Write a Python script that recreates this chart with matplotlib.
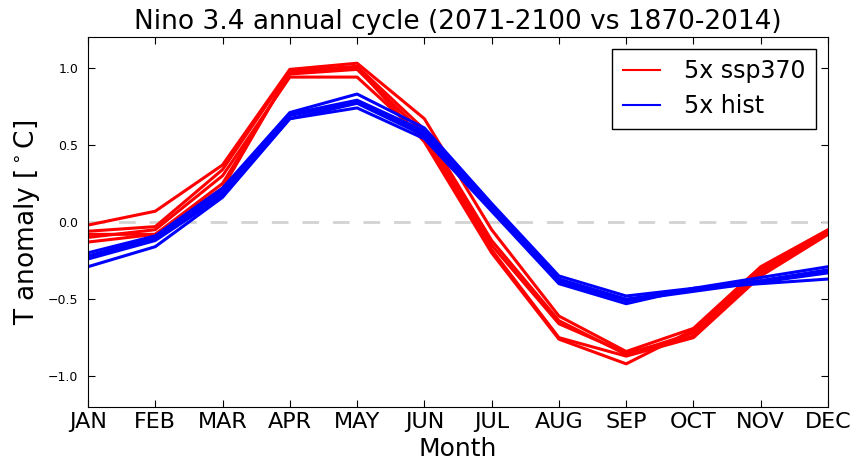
import matplotlib
matplotlib.use("Agg")
import matplotlib.pyplot as plt
import numpy as np

months = ["JAN", "FEB", "MAR", "APR", "MAY", "JUN",
          "JUL", "AUG", "SEP", "OCT", "NOV", "DEC"]

# 5 ensemble members, 2071-2100 ssp370 anomaly
ssp370 = [
    [-0.02, 0.07, 0.37, 0.99, 1.03, 0.67, -0.05, -0.61, -0.84, -0.69, -0.29, -0.05],
    [-0.06, -0.03, 0.34, 0.98, 1.01, 0.60, -0.12, -0.64, -0.86, -0.72, -0.32, -0.06],
    [-0.08, -0.08, 0.25, 0.96, 0.99, 0.57, -0.15, -0.66, -0.85, -0.74, -0.33, -0.07],
    [-0.10, -0.05, 0.30, 0.94, 0.94, 0.54, -0.18, -0.75, -0.87, -0.75, -0.35, -0.08],
    [-0.13, -0.08, 0.22, 0.97, 1.00, 0.52, -0.20, -0.76, -0.92, -0.70, -0.30, -0.06],
]

# 5 ensemble members, 1870-2014 historical
hist = [
    [-0.20, -0.09, 0.22, 0.71, 0.83, 0.61, 0.12, -0.35, -0.48, -0.43, -0.36, -0.29],
    [-0.22, -0.10, 0.20, 0.70, 0.79, 0.59, 0.10, -0.37, -0.50, -0.44, -0.38, -0.31],
    [-0.23, -0.11, 0.18, 0.69, 0.78, 0.57, 0.09, -0.38, -0.51, -0.44, -0.39, -0.33],
    [-0.24, -0.12, 0.17, 0.67, 0.77, 0.56, 0.08, -0.39, -0.51, -0.45, -0.39, -0.32],
    [-0.29, -0.16, 0.16, 0.67, 0.74, 0.54, 0.07, -0.40, -0.53, -0.43, -0.40, -0.37],
]

x = np.arange(len(months))

fig = plt.figure(figsize=(8.51, 4.66), dpi=100)
ax = fig.add_axes([0.1034, 0.1266, 0.8696, 0.794])

ax.axhline(0, color="lightgrey", linestyle="--", linewidth=2, dashes=(6, 5))

for i, run in enumerate(ssp370):
    ax.plot(x, run, color="red", linewidth=2.2,
            label="5x ssp370" if i == 0 else None)
for i, run in enumerate(hist):
    ax.plot(x, run, color="blue", linewidth=2.2,
            label="5x hist" if i == 0 else None)

ax.set_xlim(0, 11)
ax.set_ylim(-1.2, 1.2)
ax.set_xticks(x)
ax.set_xticklabels(months, fontsize=16)
ax.set_yticks([-1.0, -0.5, 0.0, 0.5, 1.0])
ax.tick_params(axis="y", labelsize=9, pad=7)
ax.tick_params(direction="in", top=True, right=True, length=5)

ax.set_xlabel("Month", fontsize=18)
ax.set_ylabel(r"T anomaly [$^\circ$C]", fontsize=19)
ax.set_title("Nino 3.4 annual cycle (2071-2100 vs 1870-2014)", fontsize=19)

leg = ax.legend(loc="upper right", fontsize=17, fancybox=False,
                handlelength=1.6, handletextpad=1.0, borderpad=0.45,
                labelspacing=0.45, borderaxespad=0.5)
leg.get_frame().set_edgecolor("black")
leg.get_frame().set_linewidth(1)
leg.get_frame().set_alpha(1)
for h in leg.get_lines():
    h.set_linewidth(1.5)

fig.savefig("out.png", dpi=100)
